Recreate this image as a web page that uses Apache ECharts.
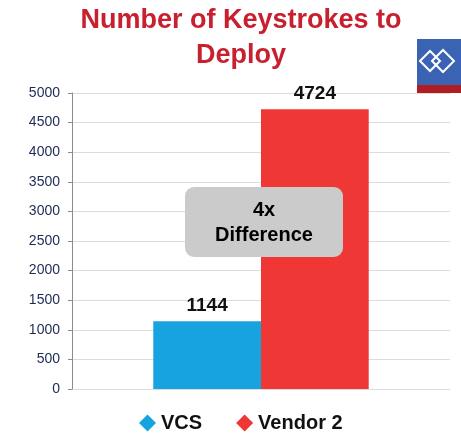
<!DOCTYPE html>
<html lang="en">
<head>
<meta charset="utf-8">
<title>Keystrokes to Deploy</title>
<script src="https://cdn.jsdelivr.net/npm/echarts@6/dist/echarts.min.js"></script>
<style>
  html, body { margin: 0; padding: 0; background: #fff; }
  #main { width: 461px; height: 434px; }
</style>
</head>
<body>
<div id="main"></div>
<script>
// data
var categories = ['Keystrokes'];
var seriesNames = ['VCS', 'Vendor 2'];
var vcsValues = [1144];
var vendorValues = [4724];
var yTicks = [0, 500, 1000, 1500, 2000, 2500, 3000, 3500, 4000, 4500, 5000];

var chart = echarts.init(document.getElementById('main'));

var labelStyle = {
  show: true,
  position: 'top',
  distance: 6,
  color: '#111',
  fontFamily: 'Liberation Sans',
  fontWeight: 'bold',
  fontSize: 19
};

var option = {
  backgroundColor: '#fff',
  animation: false,
  title: {
    text: 'Number of Keystrokes to\nDeploy',
    left: 236,
    textAlign: 'center',
    top: -2,
    textStyle: {
      color: '#c8202f',
      fontFamily: 'Liberation Sans',
      fontWeight: 'bold',
      fontSize: 27,
      lineHeight: 35
    }
  },
  legend: {
    bottom: -4,
    left: 134,
    itemGap: 34,
    itemWidth: 17,
    itemHeight: 17,
    icon: 'diamond',
    data: seriesNames,
    textStyle: {
      color: '#111',
      fontFamily: 'Liberation Sans',
      fontWeight: 'bold',
      fontSize: 20
    }
  },
  grid: {
    left: 72,
    right: 11,
    top: 93,
    bottom: 45,
    containLabel: false
  },
  xAxis: {
    type: 'category',
    data: categories,
    axisLine: { show: false },
    axisTick: { show: false },
    axisLabel: { show: false }
  },
  yAxis: {
    type: 'value',
    min: yTicks[0],
    max: yTicks[yTicks.length - 1],
    interval: 500,
    axisLine: { show: true, lineStyle: { color: '#8c8c8c', width: 1 } },
    axisTick: { show: true, length: 4, lineStyle: { color: '#8c8c8c' } },
    axisLabel: {
      margin: 12,
      color: '#1c2a55',
      fontFamily: 'Liberation Sans',
      fontSize: 14,
      formatter: function (v) { return String(v); }
    },
    splitLine: { show: true, lineStyle: { color: '#dcdcdc', width: 1 } }
  },
  series: [
    {
      name: seriesNames[0],
      type: 'bar',
      data: vcsValues,
      barGap: '0%',
      barCategoryGap: '43%',
      itemStyle: { color: '#17a3e0' },
      label: labelStyle
    },
    {
      name: seriesNames[1],
      type: 'bar',
      data: vendorValues,
      barGap: '0%',
      barCategoryGap: '43%',
      itemStyle: { color: '#ef3836' },
      label: labelStyle
    }
  ],
  graphic: [
    // annotation box
    {
      type: 'rect',
      left: 185,
      top: 187,
      z: 100,
      shape: { width: 158, height: 70, r: 9 },
      style: { fill: '#cbcbcb' }
    },
    {
      type: 'text',
      x: 264,
      y: 223,
      z: 101,
      style: {
        text: '4x\nDifference',
        align: 'center',
        verticalAlign: 'middle',
        fill: '#000',
        fontFamily: 'Liberation Sans',
        fontWeight: 'bold',
        fontSize: 20,
        lineHeight: 25
      }
    },
    // logo
    { type: 'rect', left: 417, top: 39, z: 100, shape: { width: 44, height: 46 }, style: { fill: '#3a63b4' } },
    { type: 'rect', left: 417, top: 85, z: 100, shape: { width: 44, height: 8 }, style: { fill: '#b01c22' } },
    {
      type: 'polygon',
      z: 101,
      shape: { points: [[420, 61], [430, 51], [440, 61], [430, 71]] },
      style: { fill: 'none', stroke: '#fff', lineWidth: 2 }
    },
    {
      type: 'polygon',
      z: 101,
      shape: { points: [[432, 61], [443, 50], [454, 61], [443, 72]] },
      style: { fill: 'none', stroke: '#fff', lineWidth: 2 }
    }
  ]
};

chart.setOption(option);
</script>
</body>
</html>
